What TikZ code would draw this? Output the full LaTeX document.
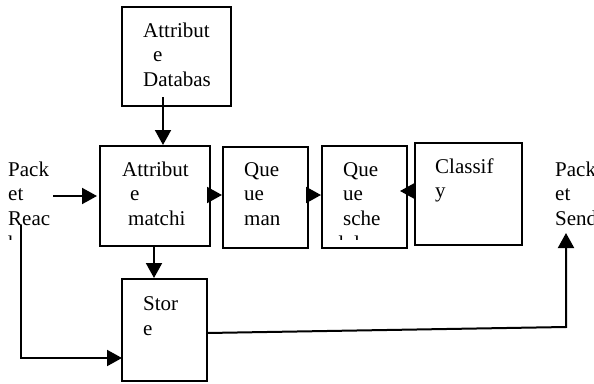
\documentclass[tikz,border=0pt]{standalone}
\usepackage{fontspec}
\setmainfont{Liberation Serif}
\usetikzlibrary{arrows.meta}
\begin{document}
\begin{tikzpicture}[x=1pt,y=-1pt,
  box/.style={draw=black,line width=2pt,rectangle,inner sep=0pt},
  txt/.style={anchor=base west,inner sep=0pt,font=\fontsize{21}{24.5}\selectfont},
  arr/.style={line width=2pt,-{Triangle[length=15pt,width=16pt]}},
  ln/.style={line width=2pt}]
\useasboundingbox (0,0) rectangle (594,383);
% boxes
\node[box,minimum width=109pt,minimum height=99pt] (db) at (176.5,56.5) {};
\node[box,minimum width=110pt,minimum height=100pt] (match) at (155,196) {};
\node[box,minimum width=85pt,minimum height=101pt] (qman) at (265.5,197.5) {};
\node[box,minimum width=85pt,minimum height=102pt] (sche) at (364.5,197) {};
\node[box,minimum width=107pt,minimum height=102pt] (cls) at (468.5,194) {};
\node[box,minimum width=85pt,minimum height=102pt] (store) at (164.5,330) {};
% texts
\node[txt] (db1) at (143,37) {Attribut};
\node[txt] (db2) at (153,61.5) {e};
\node[txt] (db3) at (143,86) {Databas};
\node[txt] (m1) at (122,176) {Attribut};
\node[txt] (m2) at (130,200.5) {e};
\node[txt] (m3) at (128,225) {matchi};
\node[txt] (q1) at (244,176) {Que};
\node[txt] (q2) at (244,200.5) {ue};
\node[txt] (q3) at (244,225) {man};
\node[txt] (s1) at (343,176) {Que};
\node[txt] (s2) at (343,200.5) {ue};
\node[txt] (s3) at (343,225) {sche};
\node[txt] (c1) at (435,173) {Classif};
\node[txt] (c2) at (435,197.5) {y};
\node[txt] (st1) at (143,310) {Stor};
\node[txt] (st2) at (143,335) {e};
\node[txt] (r1) at (8,176) {Pack};
\node[txt] (r2) at (8,200.5) {et};
\node[txt] (r3) at (8,225) {Reac};
\node[txt] (p1) at (555,176) {Pack};
\node[txt] (p2) at (555,200.5) {et};
\node[txt] (p3) at (555,225) {Send};
\begin{scope}
\clip (0,0) rectangle (594,239.5);
\node[txt] (s4) at (333,250) {dul};
\node[txt] (r4) at (8,250) {h};
\end{scope}
% connectors
\coordinate (dbout) at (163,97);
\draw[arr] (dbout) -- (dbout |- match.north);
\coordinate (rin) at (53,196);
\coordinate (rtip) at (97,196);
\draw[arr] (rin) -- (rtip);
\coordinate (m2q) at (208,195);
\draw[arr] (m2q) -- (m2q -| qman.west);
\coordinate (q2s) at (307,195);
\draw[arr] (q2s) -- (q2s -| sche.west);
\coordinate (c2s) at (415,191);
\coordinate (c2stip) at (400,191);
\draw[arr] (c2s) -- (c2stip);
\coordinate (m2st) at (154,246);
\draw[arr] (m2st) -- (m2st |- store.north);
\coordinate (rdown) at (21,225);
\coordinate (stin) at (122,358);
\draw[arr] (rdown) |- (stin);
\coordinate (stout) at (207,333);
\coordinate (scorner) at (566,327);
\coordinate (stip) at (566,233);
\draw[arr] (stout) -- (scorner) -- (stip);
\end{tikzpicture}
\end{document}
